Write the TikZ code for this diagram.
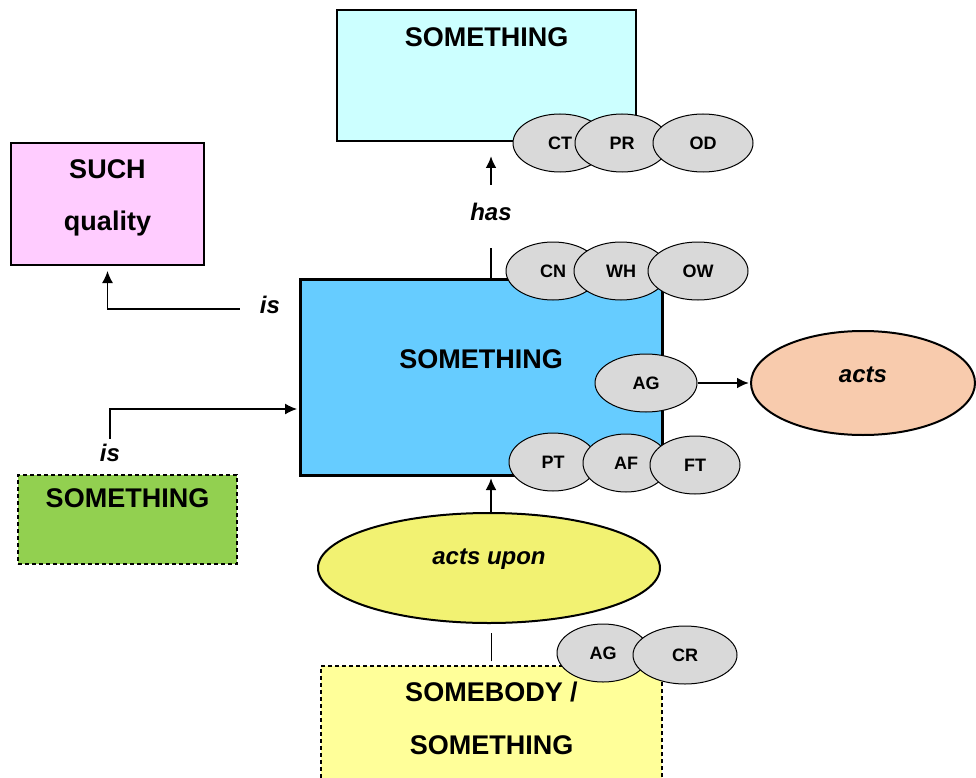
\documentclass[tikz,border=0pt]{standalone}
\usepackage{fontspec}
\setmainfont{Liberation Sans}
\usetikzlibrary{shapes.geometric,arrows.meta}
\definecolor{goalcyan}{HTML}{CCFFFF}
\definecolor{suchpink}{HTML}{FFCCFF}
\definecolor{mainblue}{HTML}{66CCFF}
\definecolor{kindgreen}{HTML}{92D050}
\definecolor{whoyellow}{HTML}{FFFF99}
\definecolor{uponyellow}{HTML}{F2F272}
\definecolor{actspeach}{HTML}{F8CBAD}
\definecolor{taggray}{HTML}{D9D9D9}
\begin{document}
\begin{tikzpicture}[x=1pt,y=-1pt,
  box/.style={draw,line width=2pt,rectangle,inner sep=0pt},
  loose/.style={line width=1.2pt,dash pattern=on 4pt off 3pt},
  tag/.style={draw,line width=1pt,ellipse,fill=taggray,minimum width=94pt,minimum height=58pt,inner sep=0pt,font=\fontsize{18}{20}\selectfont\bfseries},
  act/.style={draw,line width=2pt,ellipse,inner sep=0pt},
  rel/.style={inner sep=0pt,font=\fontsize{24}{28}\selectfont\bfseries\itshape},
  txt/.style={inner sep=0pt,font=\fontsize{27}{52.5}\selectfont\bfseries},
  conn/.style={line width=1.3pt},
  bold conn/.style={line width=2.5pt},
  >={Latex[length=12pt,width=11pt]}]

\useasboundingbox (0,0) rectangle (976,778);

% boxes
\node[box,fill=goalcyan,minimum width=299pt,minimum height=131pt,
  label={[txt,anchor=base,yshift=-37.5pt]north:SOMETHING}] (goal) at (486.5,75.5) {};
\node[box,fill=suchpink,minimum width=193pt,minimum height=122pt,
  label={[txt,align=center,anchor=center,yshift=-56pt]north:SUCH\\quality}] (such) at (107.5,204) {};
\node[box,line width=3pt,fill=mainblue,minimum width=362pt,minimum height=196pt,
  label={[txt,anchor=base,yshift=-90.5pt]north:SOMETHING}] (main) at (481,377) {};
\node[box,loose,fill=kindgreen,minimum width=219pt,minimum height=89pt,
  label={[txt,anchor=base,yshift=-33pt]north:SOMETHING}] (kind) at (127.5,519.5) {};
\node[box,loose,fill=whoyellow,minimum width=341pt,minimum height=134pt,
  label={[txt,align=center,anchor=center,yshift=-53pt]north:SOMEBODY /\\SOMETHING}] (who) at (491.5,733) {};

% roles
\node[tag] (ct) at (560,143) {CT};
\node[tag] (pr) at (622,143) {PR};
\node[tag,minimum width=100pt] (od) at (703,143) {OD};

\node[tag] (cn) at (553,271) {CN};
\node[tag] (wh) at (621,271) {WH};
\node[tag,minimum width=100pt] (ow) at (698,271) {OW};

\node[tag,minimum width=102pt] (ag) at (646,383) {AG};

\node[tag,minimum width=88pt] (pt) at (553,462) {PT};
\node[tag,minimum width=86pt] (af) at (626,463) {AF};
\node[tag,minimum width=90pt] (ft) at (695,465) {FT};

\node[tag,minimum width=92pt] (agw) at (603,653) {AG};
\node[tag,minimum width=104pt] (cr) at (685,655) {CR};

% actions
\node[act,fill=actspeach,minimum width=224pt,minimum height=104pt,
  label={[rel,anchor=base,yshift=-52pt]north:acts}] (acts) at (863,383) {};
\node[act,fill=uponyellow,minimum width=342pt,minimum height=110pt,
  label={[rel,anchor=base,yshift=-52pt]north:acts upon}] (upon) at (489,568) {};

% relations
\node[rel] (hasl) at (491,212) {has};
\node[rel] (isq) at (270,305) {is};
\node[rel] (isk) at (110,453) {is};

\draw[bold conn,shorten >=27pt] (main.north -| hasl) -- (hasl.south);
\draw[bold conn,->,shorten <=18pt,shorten >=14pt] (hasl.north) -- (goal.south -| hasl);
\draw[conn,->,shorten >=5pt] (isq.west |- 0,309) ++(-20,0) -| (such.south);
\draw[conn,->,shorten >=1.5pt] ([yshift=5pt]isk.north) |- (main.west |- 0,409);
\draw[bold conn,->,shorten >=1pt] (ag.east) -- (acts.west);
\draw[bold conn,->,shorten >=1.5pt] (upon.north -| hasl) -- (main.south -| hasl);
\draw[line width=1pt,shorten <=4pt,shorten >=9pt] (who.north -| hasl) -- (upon.south -| hasl);

\end{tikzpicture}
\end{document}
